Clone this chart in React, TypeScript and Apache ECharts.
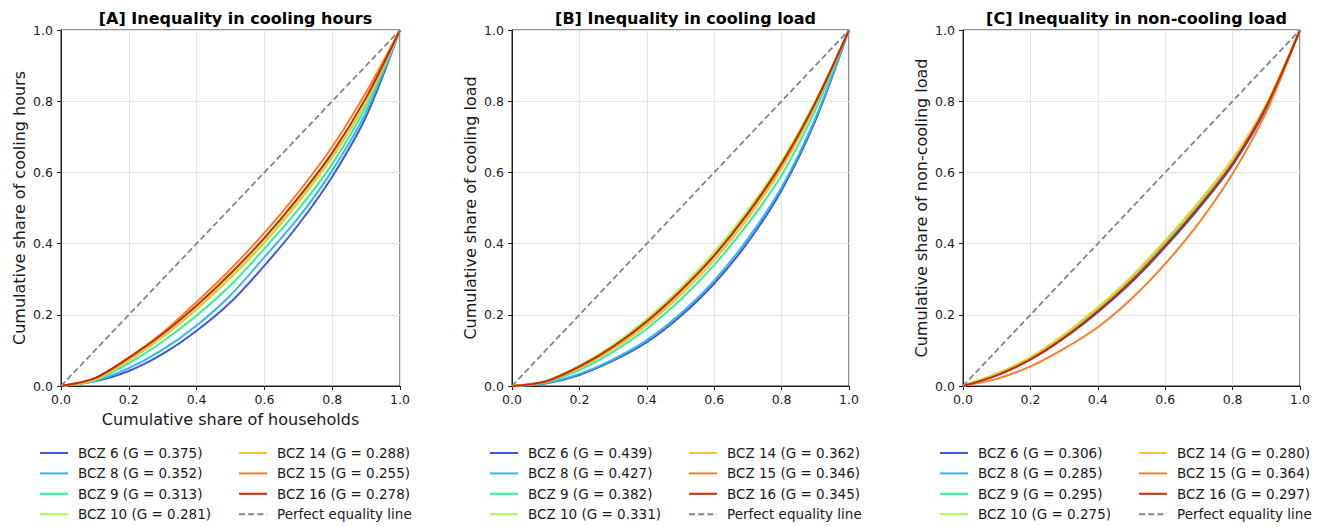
import React, { useEffect, useRef } from "react";
import * as echarts from "echarts";

// ---------- data ----------
const xShares = [0, 0.1, 0.2, 0.3, 0.4, 0.5, 0.6, 0.7, 0.8, 0.9, 1.0];
const eqX = [0, 1];
const eqY = [0, 1];

const zones = ["BCZ 6", "BCZ 8", "BCZ 9", "BCZ 10", "BCZ 14", "BCZ 15", "BCZ 16"];
const zoneColors = ["#4358cf", "#30b6f5", "#2ef19a", "#a4fb4a", "#f2c43a", "#fa7d2a", "#c62a06"];

const panelTitles = [
  "[A] Inequality in cooling hours",
  "[B] Inequality in cooling load",
  "[C] Inequality in non-cooling load",
];
const yAxisNames = [
  "Cumulative share of cooling hours",
  "Cumulative share of cooling load",
  "Cumulative share of non-cooling load",
];
const xAxisName = "Cumulative share of households";
const tickValues = ["0.0", "0.2", "0.4", "0.6", "0.8", "1.0"];

const giniA = ["0.375", "0.352", "0.313", "0.281", "0.288", "0.255", "0.278"];
const giniB = ["0.439", "0.427", "0.382", "0.331", "0.362", "0.346", "0.345"];
const giniC = ["0.306", "0.285", "0.295", "0.275", "0.280", "0.364", "0.297"];

// [A] cooling hours
const hoursBCZ6 = [0, 0.013, 0.042, 0.09, 0.155, 0.235, 0.338, 0.453, 0.588, 0.757, 1];
const hoursBCZ8 = [0, 0.014, 0.05, 0.102, 0.17, 0.255, 0.362, 0.472, 0.605, 0.77, 1];
const hoursBCZ9 = [0, 0.016, 0.064, 0.125, 0.198, 0.283, 0.386, 0.496, 0.624, 0.785, 1];
const hoursBCZ10 = [0, 0.018, 0.072, 0.138, 0.218, 0.308, 0.408, 0.521, 0.646, 0.8, 1];
const hoursBCZ14 = [0, 0.018, 0.072, 0.137, 0.215, 0.303, 0.402, 0.515, 0.641, 0.797, 1];
const hoursBCZ15 = [0, 0.022, 0.08, 0.15, 0.236, 0.328, 0.43, 0.544, 0.672, 0.825, 1];
const hoursBCZ16 = [0, 0.022, 0.079, 0.146, 0.226, 0.316, 0.416, 0.529, 0.655, 0.81, 1];

// [B] cooling load
const loadBCZ6 = [0, 0.007, 0.031, 0.071, 0.123, 0.196, 0.288, 0.404, 0.55, 0.745, 1];
const loadBCZ8 = [0, 0.008, 0.034, 0.075, 0.129, 0.203, 0.296, 0.414, 0.558, 0.752, 1];
const loadBCZ9 = [0, 0.011, 0.045, 0.096, 0.161, 0.242, 0.34, 0.456, 0.592, 0.775, 1];
const loadBCZ10 = [0, 0.014, 0.057, 0.115, 0.188, 0.275, 0.376, 0.494, 0.632, 0.8, 1];
const loadBCZ14 = [0, 0.012, 0.05, 0.104, 0.171, 0.255, 0.353, 0.471, 0.61, 0.788, 1];
const loadBCZ15 = [0, 0.012, 0.053, 0.109, 0.179, 0.265, 0.364, 0.482, 0.62, 0.793, 1];
const loadBCZ16 = [0, 0.013, 0.055, 0.111, 0.182, 0.268, 0.367, 0.486, 0.625, 0.796, 1];

// [C] non-cooling load
const nonBCZ6 = [0, 0.03, 0.074, 0.134, 0.207, 0.291, 0.39, 0.499, 0.62, 0.78, 1];
const nonBCZ8 = [0, 0.033, 0.078, 0.141, 0.216, 0.302, 0.402, 0.511, 0.632, 0.788, 1];
const nonBCZ9 = [0, 0.032, 0.076, 0.138, 0.213, 0.298, 0.398, 0.507, 0.628, 0.785, 1];
const nonBCZ10 = [0, 0.035, 0.081, 0.145, 0.221, 0.308, 0.409, 0.518, 0.638, 0.793, 1];
const nonBCZ14 = [0, 0.034, 0.079, 0.143, 0.219, 0.305, 0.406, 0.515, 0.635, 0.79, 1];
const nonBCZ15 = [0, 0.02, 0.055, 0.105, 0.165, 0.245, 0.343, 0.458, 0.596, 0.77, 1];
const nonBCZ16 = [0, 0.03, 0.075, 0.136, 0.21, 0.295, 0.394, 0.503, 0.625, 0.785, 1];

const panelCurves = [
  [hoursBCZ6, hoursBCZ8, hoursBCZ9, hoursBCZ10, hoursBCZ14, hoursBCZ15, hoursBCZ16],
  [loadBCZ6, loadBCZ8, loadBCZ9, loadBCZ10, loadBCZ14, loadBCZ15, loadBCZ16],
  [nonBCZ6, nonBCZ8, nonBCZ9, nonBCZ10, nonBCZ14, nonBCZ15, nonBCZ16],
];
const panelGini = [giniA, giniB, giniC];

// ---------- layout ----------
const FONT = "DejaVu Sans";
const TXT = "#1a1a1a";
const grids = [
  { left: 61, top: 30, width: 339, height: 356 },
  { left: 512, top: 30, width: 337, height: 356 },
  { left: 963, top: 30, width: 337, height: 356 },
];
const legendCols = [
  [39, 238],
  [489, 688],
  [939, 1138],
];

export default function App() {
  const ref = useRef<HTMLDivElement>(null);

  useEffect(() => {
    if (!ref.current) return;
    const chart = echarts.init(ref.current, undefined, { renderer: "svg" });

    const series: any[] = [];
    const legends: any[] = [];
    const titles: any[] = [];
    const xAxes: any[] = [];
    const yAxes: any[] = [];

    for (let p = 0; p < 3; p++) {
      const g = grids[p];
      const names: string[] = [];
      zones.forEach((z, k) => {
        const name = `${z} (G = ${panelGini[p][k]})`;
        names.push(name);
        series.push({
          type: "line",
          name,
          xAxisIndex: p,
          yAxisIndex: p,
          data: xShares.map((x, i) => [x, panelCurves[p][k][i]]),
          symbol: "none",
          smooth: 0.3,
          lineStyle: { width: 2, color: zoneColors[k] },
          itemStyle: { color: zoneColors[k] },
        });
      });
      const eqName = "Perfect equality line";
      names.push(eqName);
      series.push({
        type: "line",
        name: eqName,
        xAxisIndex: p,
        yAxisIndex: p,
        data: eqX.map((x, i) => [x, eqY[i]]),
        symbol: "none",
        lineStyle: { width: 1.8, color: "#858585", type: [6, 3.2] },
        itemStyle: { color: "#858585" },
        z: 3,
      });

      titles.push({
        text: panelTitles[p],
        left: g.left + g.width / 2,
        top: 5,
        textAlign: "center",
        textStyle: { fontFamily: FONT, fontSize: 16, fontWeight: "bold", color: "#000" },
      });

      const legendBase = {
        orient: "vertical",
        top: 446,
        itemWidth: 28,
        itemHeight: 14,
        itemGap: 6.4,
        padding: 0,
        itemStyle: { opacity: 0, borderWidth: 0 },
        textStyle: { fontFamily: FONT, fontSize: 13.5, color: TXT, padding: [0, 0, 0, 5] },
        selectedMode: false,
      };
      legends.push({ ...legendBase, left: legendCols[p][0], data: names.slice(0, 4) });
      legends.push({ ...legendBase, left: legendCols[p][1], data: names.slice(4, 8) });

      const axisCommon = {
        type: "value",
        gridIndex: p,
        min: 0,
        max: 1,
        interval: 0.2,
        axisLine: { show: true, onZero: false, lineStyle: { color: "#222", width: 1 } },
        axisTick: { show: true, length: 4, lineStyle: { color: "#222", width: 1 } },
        axisLabel: {
          fontFamily: FONT,
          fontSize: 12.5,
          color: TXT,
          formatter: (v: number) => tickValues[Math.round(v / 0.2)] ?? v.toFixed(1),
        },
        splitLine: { show: true, lineStyle: { color: "#e3e3e3", width: 1 } },
        nameTextStyle: { fontFamily: FONT, fontSize: 16, color: TXT },
      };
      xAxes.push({
        ...axisCommon,
        axisLabel: { ...axisCommon.axisLabel, margin: 7 },
        name: p === 0 ? xAxisName : "",
        nameLocation: "middle",
        nameGap: 25,
      });
      yAxes.push({
        ...axisCommon,
        axisLabel: { ...axisCommon.axisLabel, margin: 8 },
        name: yAxisNames[p],
        nameLocation: "middle",
        nameGap: 34,
      });
    }

    chart.setOption({
      animation: false,
      backgroundColor: "#ffffff",
      title: titles,
      legend: legends,
      grid: grids.map((g) => ({
        ...g,
        show: true,
        borderColor: "#222",
        borderWidth: 1,
        backgroundColor: "transparent",
      })),
      xAxis: xAxes,
      yAxis: yAxes,
      series,
    });

    return () => chart.dispose();
  }, []);

  return (
    <div
      ref={ref}
      style={{ position: "absolute", left: 0, top: 0, width: 1322, height: 527, background: "#fff" }}
    />
  );
}
